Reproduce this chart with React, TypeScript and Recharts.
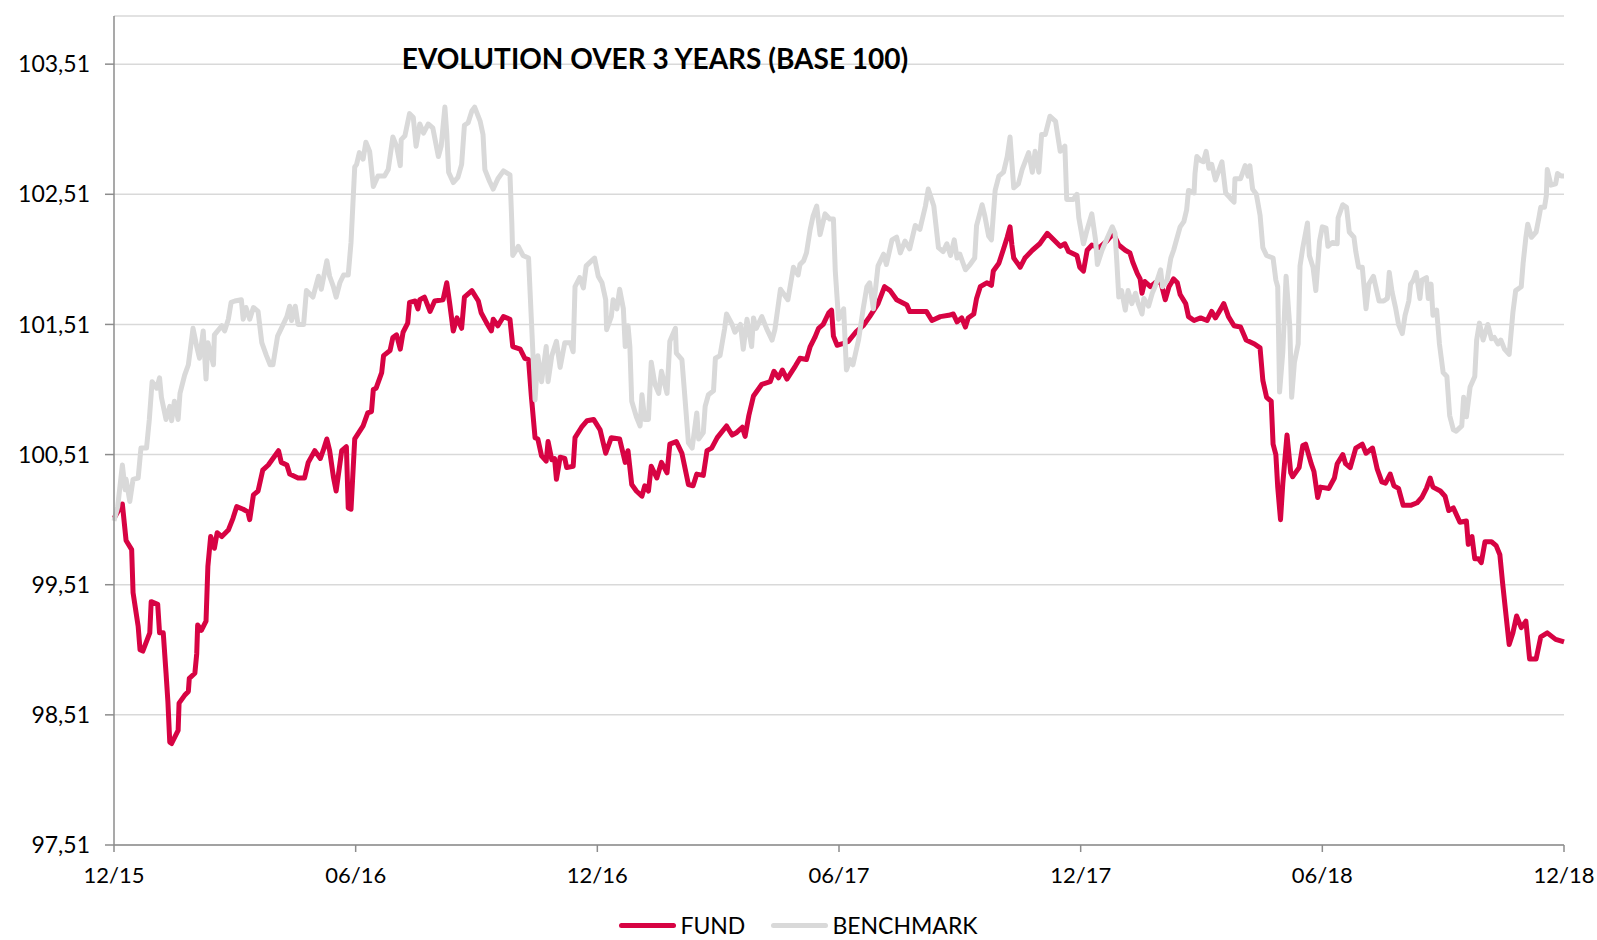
import { CartesianGrid, Legend, Line, LineChart, XAxis, YAxis } from "recharts"

const title = "EVOLUTION OVER 3 YEARS (BASE 100)"
const seriesNames = ["FUND", "BENCHMARK"]
// x = weeks since 12/15
const tickWeeks = [0, 26, 52, 78, 104, 130, 156]
const tickLabels = ["12/15", "06/16", "12/16", "06/17", "12/17", "06/18", "12/18"]
const yTicks = [97.51, 98.51, 99.51, 100.51, 101.51, 102.51, 103.51]

// [week, value]
const fundPoints: [number, number][] = [
  [0, 100.02], [0.9, 100.13], [1.3, 99.85], [1.9, 99.78], [2.05, 99.45], [2.6, 99.19], [2.8, 99.01], [3.1, 99.0], [3.85, 99.14], [4.0, 99.38],
  [4.7, 99.36], [4.9, 99.14], [5.3, 99.14], [5.6, 98.83], [5.8, 98.61], [6.0, 98.3], [6.2, 98.29], [6.9, 98.39], [7.0, 98.6], [7.6, 98.66],
  [8.0, 98.69], [8.1, 98.79], [8.7, 98.83], [8.9, 98.98], [9.0, 99.2], [9.4, 99.16], [9.9, 99.23], [10.1, 99.65], [10.4, 99.88], [10.8, 99.79],
  [11.1, 99.91], [11.6, 99.88], [12.3, 99.93], [12.8, 100.02], [13.2, 100.11], [13.9, 100.09], [14.4, 100.07], [14.6, 100.01], [15.0, 100.2], [15.5, 100.23],
  [16.0, 100.39], [16.6, 100.43], [17.7, 100.54], [18.0, 100.45], [18.6, 100.43], [18.9, 100.36], [19.8, 100.33], [20.5, 100.33], [20.9, 100.45], [21.6, 100.54],
  [22.2, 100.48], [22.5, 100.54], [22.9, 100.63], [23.2, 100.54], [23.6, 100.34], [23.9, 100.23], [24.5, 100.54], [25.0, 100.57], [25.2, 100.1], [25.5, 100.09],
  [25.9, 100.63], [26.8, 100.73], [27.3, 100.83], [27.7, 100.84], [27.9, 101.01], [28.2, 101.02], [28.8, 101.14], [29.0, 101.27], [29.7, 101.31], [30.0, 101.41],
  [30.4, 101.43], [30.8, 101.32], [31.1, 101.45], [31.6, 101.52], [31.8, 101.68], [32.4, 101.69], [32.7, 101.63], [32.9, 101.7], [33.4, 101.72], [34.0, 101.61],
  [34.5, 101.69], [35.4, 101.7], [35.8, 101.83], [36.1, 101.68], [36.5, 101.46], [36.9, 101.56], [37.4, 101.48], [37.7, 101.72], [38.5, 101.77], [39.2, 101.69],
  [39.5, 101.6], [40.1, 101.52], [40.6, 101.46], [40.8, 101.55], [41.3, 101.5], [41.9, 101.57], [42.6, 101.55], [42.9, 101.34], [43.7, 101.32], [44.2, 101.25],
  [44.6, 101.24], [44.9, 100.96], [45.3, 100.64], [45.6, 100.63], [46.0, 100.5], [46.5, 100.46], [46.7, 100.61], [47.1, 100.47], [47.4, 100.48], [47.6, 100.32],
  [48.0, 100.49], [48.5, 100.48], [48.7, 100.41], [49.4, 100.42], [49.6, 100.64], [50.3, 100.72], [50.9, 100.77], [51.6, 100.78], [52.3, 100.7], [52.9, 100.52],
  [53.5, 100.64], [54.4, 100.63], [55.0, 100.45], [55.3, 100.54], [55.7, 100.28], [56.2, 100.23], [56.8, 100.19], [57.1, 100.27], [57.5, 100.23], [57.8, 100.42],
  [58.4, 100.33], [58.9, 100.45], [59.5, 100.37], [59.8, 100.59], [60.5, 100.61], [61.1, 100.52], [61.8, 100.28], [62.3, 100.27], [62.7, 100.36], [63.4, 100.35],
  [63.8, 100.54], [64.3, 100.56], [64.9, 100.64], [65.9, 100.73], [66.5, 100.66], [67.0, 100.68], [67.6, 100.72], [67.9, 100.65], [68.3, 100.81], [68.8, 100.96],
  [69.7, 101.05], [70.6, 101.07], [71.0, 101.15], [71.5, 101.1], [71.9, 101.16], [72.4, 101.09], [73.3, 101.19], [73.8, 101.25], [74.5, 101.24], [74.9, 101.34],
  [75.4, 101.41], [75.8, 101.48], [76.3, 101.51], [76.9, 101.6], [77.2, 101.62], [77.4, 101.42], [77.8, 101.35], [78.3, 101.36], [79.0, 101.38], [79.8, 101.45],
  [80.6, 101.5], [81.3, 101.57], [82.2, 101.67], [82.9, 101.8], [83.5, 101.77], [84.2, 101.7], [85.3, 101.66], [85.6, 101.61], [86.5, 101.61], [87.4, 101.61],
  [88.0, 101.54], [88.9, 101.57], [89.8, 101.58], [90.3, 101.59], [90.7, 101.53], [91.2, 101.56], [91.6, 101.49], [91.9, 101.56], [92.5, 101.59], [92.8, 101.71],
  [93.2, 101.8], [93.9, 101.83], [94.4, 101.81], [94.6, 101.92], [95.2, 101.98], [95.7, 102.09], [96.1, 102.18], [96.4, 102.26], [96.6, 102.12], [96.8, 102.02],
  [97.5, 101.95], [98.0, 102.02], [98.8, 102.08], [99.6, 102.13], [100.4, 102.21], [101.1, 102.16], [101.8, 102.11], [102.3, 102.13], [102.7, 102.07], [103.6, 102.04],
  [103.9, 101.95], [104.3, 101.92], [104.7, 102.08], [105.2, 102.12], [106.0, 102.1], [106.8, 102.15], [107.5, 102.21], [108.1, 102.12], [108.8, 102.08], [109.3, 102.06],
  [109.6, 101.99], [110.1, 101.9], [110.4, 101.86], [110.6, 101.75], [110.9, 101.84], [111.5, 101.8], [112.0, 101.83], [112.6, 101.84], [113.1, 101.7], [113.5, 101.8],
  [114.0, 101.86], [114.4, 101.83], [114.7, 101.74], [115.3, 101.67], [115.6, 101.57], [116.2, 101.54], [116.9, 101.56], [117.6, 101.54], [118.1, 101.61], [118.5, 101.56],
  [119.0, 101.62], [119.4, 101.67], [119.9, 101.57], [120.5, 101.5], [121.2, 101.49], [121.8, 101.39], [122.7, 101.36], [123.3, 101.33], [123.6, 101.08], [124.0, 100.95],
  [124.5, 100.92], [124.7, 100.59], [125.0, 100.51], [125.2, 100.26], [125.5, 100.01], [125.75, 100.29], [126.2, 100.66], [126.6, 100.37], [126.8, 100.34], [127.5, 100.41],
  [127.9, 100.58], [128.2, 100.59], [128.8, 100.44], [129.1, 100.38], [129.5, 100.18], [129.8, 100.26], [130.7, 100.25], [131.3, 100.33], [131.6, 100.44], [132.2, 100.51],
  [132.5, 100.44], [133.0, 100.41], [133.6, 100.56], [134.3, 100.59], [134.7, 100.52], [135.4, 100.56], [135.9, 100.4], [136.4, 100.3], [136.8, 100.29], [137.3, 100.36],
  [137.7, 100.27], [138.2, 100.25], [138.7, 100.12], [139.5, 100.12], [140.2, 100.14], [140.7, 100.18], [141.2, 100.25], [141.6, 100.33], [141.9, 100.26], [142.7, 100.23],
  [143.2, 100.19], [143.6, 100.08], [144.1, 100.1], [144.8, 99.99], [145.5, 100.0], [145.7, 99.82], [146.1, 99.88], [146.4, 99.71], [146.8, 99.71], [147.1, 99.68],
  [147.5, 99.84], [148.2, 99.84], [148.7, 99.81], [149.1, 99.74], [149.4, 99.52], [149.8, 99.25], [150.1, 99.05], [150.5, 99.14], [150.9, 99.27], [151.4, 99.18],
  [151.9, 99.23], [152.3, 98.94], [153.0, 98.94], [153.5, 99.11], [154.2, 99.14], [155.1, 99.09], [156, 99.07],
]

const benchmarkPoints: [number, number][] = [
  [0, 100.0], [0.4, 100.11], [0.9, 100.43], [1.2, 100.24], [1.3, 100.32], [1.7, 100.15], [2.05, 100.32], [2.6, 100.33], [2.9, 100.56], [3.5, 100.56],
  [3.8, 100.78], [4.1, 101.07], [4.6, 101.02], [4.9, 101.1], [5.1, 100.95], [5.6, 100.78], [6.0, 100.88], [6.2, 100.77], [6.5, 100.92], [6.9, 100.78],
  [7.1, 100.98], [7.6, 101.12], [8.0, 101.2], [8.5, 101.48], [8.9, 101.34], [9.2, 101.25], [9.6, 101.46], [9.9, 101.09], [10.1, 101.37], [10.7, 101.2],
  [10.8, 101.43], [11.6, 101.5], [11.9, 101.46], [12.3, 101.55], [12.6, 101.68], [13.0, 101.69], [13.7, 101.7], [13.9, 101.55], [14.2, 101.64], [14.6, 101.55],
  [15.0, 101.64], [15.5, 101.61], [15.9, 101.37], [16.4, 101.27], [16.8, 101.2], [17.1, 101.2], [17.6, 101.42], [18.0, 101.48], [18.6, 101.57], [18.9, 101.65],
  [19.1, 101.54], [19.5, 101.65], [19.8, 101.51], [20.4, 101.51], [20.7, 101.77], [21.4, 101.72], [22.0, 101.88], [22.3, 101.78], [22.9, 102.0], [23.2, 101.88],
  [23.6, 101.8], [23.9, 101.72], [24.3, 101.83], [24.7, 101.89], [25.2, 101.89], [25.5, 102.14], [25.9, 102.72], [26.1, 102.74], [26.4, 102.83], [26.8, 102.78],
  [27.1, 102.91], [27.5, 102.84], [27.9, 102.57], [28.4, 102.65], [29.1, 102.65], [29.5, 102.7], [30.0, 102.95], [30.4, 102.88], [30.8, 102.73], [30.9, 102.93],
  [31.3, 102.96], [31.8, 103.13], [32.2, 103.1], [32.5, 102.88], [32.9, 103.05], [33.3, 102.98], [33.8, 103.05], [34.3, 103.02], [34.9, 102.8], [35.2, 102.88],
  [35.6, 103.18], [35.8, 102.98], [36.0, 102.68], [36.5, 102.6], [37.0, 102.64], [37.4, 102.74], [37.7, 103.04], [38.1, 103.06], [38.5, 103.15], [38.8, 103.18],
  [39.4, 103.07], [39.7, 102.97], [39.9, 102.7], [40.4, 102.61], [40.8, 102.55], [41.3, 102.63], [41.9, 102.69], [42.6, 102.66], [42.8, 102.29], [42.9, 102.04],
  [43.5, 102.11], [44.0, 102.04], [44.6, 102.02], [44.9, 101.55], [45.3, 100.93], [45.6, 101.27], [46.0, 101.07], [46.5, 101.34], [46.7, 101.07], [47.1, 101.27],
  [47.6, 101.38], [48.0, 101.18], [48.5, 101.37], [49.1, 101.37], [49.4, 101.3], [49.6, 101.8], [50.1, 101.87], [50.5, 101.79], [50.8, 101.96], [51.4, 102.0],
  [51.7, 102.02], [52.1, 101.88], [52.5, 101.83], [52.9, 101.7], [53.0, 101.47], [53.5, 101.57], [53.7, 101.7], [54.1, 101.63], [54.4, 101.78], [54.8, 101.63],
  [55.0, 101.34], [55.3, 101.5], [55.5, 101.34], [55.7, 100.92], [56.2, 100.8], [56.6, 100.73], [56.8, 100.97], [57.1, 100.78], [57.5, 100.78], [57.8, 101.22],
  [58.2, 101.05], [58.6, 100.98], [58.9, 101.15], [59.5, 100.98], [59.8, 101.38], [60.4, 101.48], [60.5, 101.29], [61.1, 101.24], [61.4, 100.97], [61.8, 100.6],
  [62.2, 100.56], [62.7, 100.83], [62.9, 100.63], [63.4, 100.68], [63.6, 100.88], [63.95, 100.97], [64.5, 101.0], [64.7, 101.25], [65.2, 101.27], [65.7, 101.48],
  [65.9, 101.59], [66.5, 101.51], [66.8, 101.45], [67.4, 101.51], [67.7, 101.32], [68.1, 101.55], [68.6, 101.34], [68.8, 101.56], [69.1, 101.48], [69.7, 101.57],
  [70.2, 101.48], [70.8, 101.39], [71.1, 101.47], [71.7, 101.78], [72.0, 101.75], [72.5, 101.7], [73.1, 101.95], [73.6, 101.89], [73.8, 101.97], [74.2, 102.0],
  [74.5, 102.06], [74.9, 102.24], [75.2, 102.34], [75.6, 102.42], [75.96, 102.2], [76.5, 102.36], [77.0, 102.32], [77.4, 102.32], [77.6, 101.92], [77.95, 101.55],
  [78.5, 101.63], [78.8, 101.16], [79.2, 101.24], [79.5, 101.2], [80.1, 101.39], [80.6, 101.63], [81.0, 101.8], [81.3, 101.83], [81.7, 101.63], [82.2, 101.96],
  [82.8, 102.05], [83.1, 101.97], [83.7, 102.16], [84.2, 102.18], [84.6, 102.06], [85.1, 102.15], [85.6, 102.09], [86.2, 102.27], [86.7, 102.24], [87.3, 102.42],
  [87.6, 102.55], [88.2, 102.42], [88.7, 102.1], [89.2, 102.07], [89.6, 102.13], [90.0, 102.04], [90.4, 102.16], [90.7, 102.02], [91.0, 102.05], [91.6, 101.93],
  [92.1, 101.97], [92.6, 102.02], [92.8, 102.27], [93.4, 102.43], [93.7, 102.34], [94.1, 102.19], [94.4, 102.16], [94.8, 102.54], [95.2, 102.65], [95.7, 102.68],
  [96.1, 102.8], [96.4, 102.95], [96.8, 102.56], [97.3, 102.59], [97.7, 102.7], [98.4, 102.83], [98.8, 102.68], [99.1, 102.84], [99.5, 102.68], [99.8, 102.97],
  [100.2, 102.97], [100.7, 103.11], [101.3, 103.07], [101.8, 102.84], [102.3, 102.88], [102.5, 102.47], [103.2, 102.47], [103.6, 102.51], [103.8, 102.33], [104.3, 102.13],
  [104.7, 102.24], [105.2, 102.36], [105.6, 102.16], [105.8, 101.97], [106.3, 102.08], [106.9, 102.18], [107.4, 102.26], [107.7, 102.21], [107.9, 101.98], [108.1, 101.72],
  [108.4, 101.77], [108.8, 101.62], [109.1, 101.77], [109.5, 101.67], [109.9, 101.75], [110.2, 101.67], [110.6, 101.59], [110.8, 101.71], [111.3, 101.65], [111.7, 101.75],
  [112.0, 101.8], [112.6, 101.93], [112.8, 101.8], [113.3, 101.85], [113.7, 102.02], [114.0, 102.08], [114.7, 102.26], [115.1, 102.3], [115.4, 102.39], [115.6, 102.54],
  [116.2, 102.52], [116.3, 102.67], [116.5, 102.8], [116.9, 102.77], [117.2, 102.76], [117.5, 102.84], [117.8, 102.71], [118.1, 102.74], [118.5, 102.62], [118.9, 102.7],
  [119.2, 102.76], [119.6, 102.52], [120.1, 102.48], [120.5, 102.45], [120.6, 102.63], [121.2, 102.63], [121.7, 102.73], [122.0, 102.65], [122.2, 102.73], [122.5, 102.55],
  [122.9, 102.51], [123.3, 102.35], [123.6, 102.1], [124.0, 102.04], [124.7, 102.02], [125.0, 101.85], [125.2, 101.8], [125.4, 100.99], [125.75, 101.3], [126.1, 101.88],
  [126.5, 101.49], [126.7, 100.95], [127.0, 101.22], [127.4, 101.36], [127.6, 101.96], [127.9, 102.1], [128.4, 102.29], [128.6, 102.04], [129.0, 101.95], [129.3, 101.77],
  [129.7, 102.15], [130.0, 102.26], [130.4, 102.25], [130.6, 102.11], [131.1, 102.14], [131.6, 102.13], [131.7, 102.33], [132.2, 102.43], [132.6, 102.41], [132.9, 102.22],
  [133.4, 102.18], [133.6, 102.07], [133.9, 101.95], [134.3, 101.95], [134.7, 101.63], [135.0, 101.82], [135.5, 101.88], [136.1, 101.69], [136.6, 101.69], [137.0, 101.71],
  [137.2, 101.91], [137.5, 101.76], [137.9, 101.63], [138.2, 101.51], [138.6, 101.44], [138.9, 101.58], [139.3, 101.69], [139.5, 101.82], [139.8, 101.85], [140.1, 101.91],
  [140.5, 101.71], [140.7, 101.85], [141.2, 101.87], [141.4, 101.71], [141.7, 101.82], [141.9, 101.58], [142.3, 101.62], [142.6, 101.36], [143.0, 101.14], [143.4, 101.11],
  [143.7, 100.81], [144.1, 100.7], [144.4, 100.69], [145.0, 100.73], [145.2, 100.95], [145.5, 100.8], [145.9, 101.03], [146.4, 101.11], [146.6, 101.39], [146.9, 101.52],
  [147.3, 101.39], [147.8, 101.51], [148.2, 101.4], [148.5, 101.41], [148.9, 101.36], [149.2, 101.39], [149.6, 101.32], [150.1, 101.28], [150.5, 101.6], [150.8, 101.77],
  [151.4, 101.8], [151.6, 101.98], [151.9, 102.18], [152.1, 102.28], [152.5, 102.18], [153.0, 102.22], [153.3, 102.33], [153.5, 102.41], [153.9, 102.41], [154.1, 102.5],
  [154.2, 102.7], [154.6, 102.58], [155.1, 102.59], [155.3, 102.67], [155.7, 102.65], [156, 102.65],
]

const FUND_COLOR = "#D70343"
const BENCH_COLOR = "#D9D9D9"
const AXIS_COLOR = "#8C8C8C"
const FONT = "Lato, 'Open Sans', sans-serif"

const toRows = (points: [number, number][]) => points.map(([week, value]) => ({ week, value }))
const fundRows = toRows(fundPoints)
const benchmarkRows = toRows(benchmarkPoints)

const fmtY = (v: number) => v.toFixed(2).replace(".", ",")
const fmtX = (v: number) => tickLabels[tickWeeks.indexOf(v)] ?? ""

function LegendBox() {
  const colors = [FUND_COLOR, BENCH_COLOR]
  return (
    <div style={{ display: "flex", justifyContent: "center", alignItems: "center", fontFamily: FONT, fontSize: 23, lineHeight: "22px", color: "#000", height: 22 }}>
      {seriesNames.map((name, i) => (
        <div key={name} style={{ display: "flex", alignItems: "center", marginRight: i === 0 ? 26 : 0 }}>
          <span style={{ display: "inline-block", width: 57, height: 5, borderRadius: 3, background: colors[i], marginRight: 4 }} />
          <span>{name}</span>
        </div>
      ))}
    </div>
  )
}

export default function App() {
  return (
    <div style={{ position: "absolute", left: 0, top: 0, width: 1597, height: 940, overflow: "hidden", background: "#fff" }}>
      <LineChart width={1597} height={940} margin={{ top: 16, right: 33, bottom: 0, left: 0 }} style={{ fontFamily: FONT }}>
        <CartesianGrid vertical={false} stroke="#D9D9D9" strokeWidth={1.5} />
        <XAxis
          type="number"
          dataKey="week"
          domain={[0, 156]}
          ticks={tickWeeks}
          interval={0}
          tickFormatter={fmtX}
          height={73}
          tickSize={7}
          tickMargin={15}
          axisLine={{ stroke: AXIS_COLOR, strokeWidth: 1.5 }}
          tickLine={{ stroke: AXIS_COLOR, strokeWidth: 1.5 }}
          tick={{ fill: "#000", fontSize: 22, fontFamily: FONT }}
        />
        <YAxis
          type="number"
          domain={[97.51, 103.88]}
          ticks={yTicks}
          interval={0}
          tickFormatter={fmtY}
          width={114}
          tickSize={9}
          tickMargin={15}
          axisLine={{ stroke: AXIS_COLOR, strokeWidth: 1.5 }}
          tickLine={{ stroke: AXIS_COLOR, strokeWidth: 1.5 }}
          tick={{ fill: "#000", fontSize: 23, fontFamily: FONT }}
        />
        <Legend verticalAlign="bottom" height={22} wrapperStyle={{ left: 0, width: 1597, bottom: 4 }} content={() => <LegendBox />} />
        <Line data={fundRows} dataKey="value" name={seriesNames[0]} type="linear" stroke={FUND_COLOR} strokeWidth={5} dot={false} strokeLinejoin="round" isAnimationActive={false} />
        <Line data={benchmarkRows} dataKey="value" name={seriesNames[1]} type="linear" stroke={BENCH_COLOR} strokeWidth={5} dot={false} strokeLinejoin="round" isAnimationActive={false} />
        <text x={655} y={62} textAnchor="middle" dominantBaseline="middle" fontFamily={FONT} fontWeight={700} fontSize={28} fill="#000">
          {title}
        </text>
      </LineChart>
    </div>
  )
}
